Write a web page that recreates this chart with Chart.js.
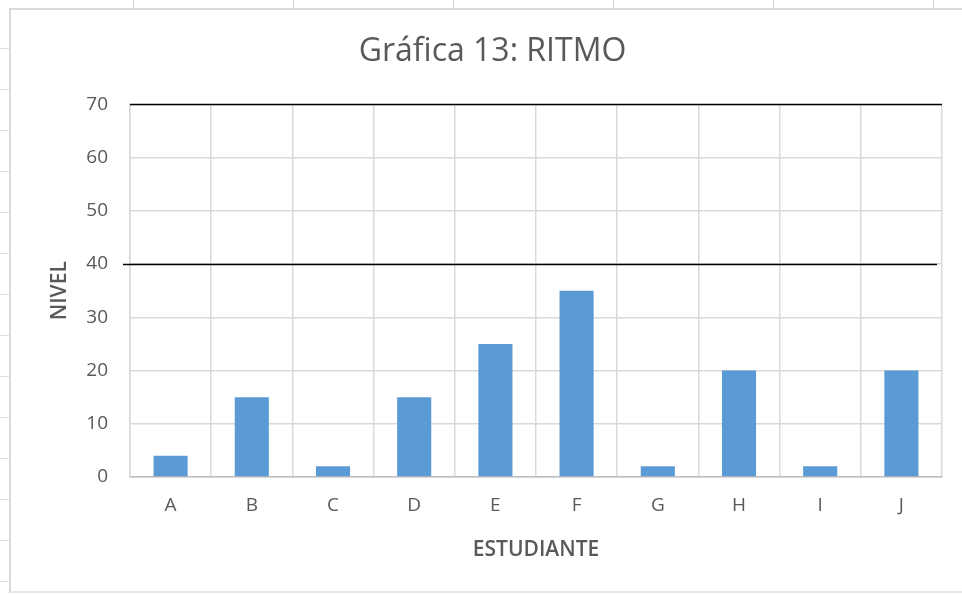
<!DOCTYPE html>
<html>
<head>
<meta charset="utf-8">
<script src="https://cdn.jsdelivr.net/npm/chart.js@4"></script>
<style>
  html, body { margin: 0; padding: 0; background: #fff; }
  #wrap { position: relative; width: 962px; height: 595px; overflow: hidden; }
  /* celdas de la hoja alrededor del gráfico */
  #topcells { position: absolute; left: 0; top: 0; width: 962px; height: 8px;
    background: repeating-linear-gradient(90deg, transparent 0 132px, #d4d4d4 132px 133px, transparent 133px 160px);
    background-position: 1px 0; }
  #leftcells { position: absolute; left: 0; top: 8px; width: 9px; height: 587px;
    background: repeating-linear-gradient(180deg, transparent 0 40px, #e0e0e0 40px 41px); }
  #box { position: absolute; left: 9px; top: 8px; width: 953px; height: 585px;
    border-left: 2px solid #d9d9d9; border-top: 2px solid #d9d9d9; border-bottom: 2px solid #e6e6e6;
    box-sizing: border-box; background: #fff; }
  canvas { position: absolute; left: 0; top: 0; }
</style>
</head>
<body>
<div id="wrap">
  <div id="topcells"></div>
  <div id="leftcells"></div>
  <div id="box"></div>
  <canvas id="chart" width="962" height="595"></canvas>
</div>
<script>
const students = ['A', 'B', 'C', 'D', 'E', 'F', 'G', 'H', 'I', 'J'];
const nivel = [4, 15, 2, 15, 25, 35, 2, 20, 2, 20];
const limits = [70, 40];   // líneas negras

const FONT = "'Open Sans', 'Noto Sans', sans-serif";

// dibuja las líneas horizontales de límite sobre la escala y
const limitLines = {
  id: 'limitLines',
  afterDatasetsDraw(chart) {
    const { ctx, chartArea, scales } = chart;
    ctx.save();
    ctx.strokeStyle = '#000';
    ctx.lineWidth = 1.5;
    limits.forEach((v, i) => {
      const y = Math.round(scales.y.getPixelForValue(v)) + 0.5;
      const x0 = i === 0 ? chartArea.left : chartArea.left - 7;
      const x1 = i === 0 ? chartArea.right : chartArea.right - 5;
      ctx.beginPath();
      ctx.moveTo(x0, y);
      ctx.lineTo(x1, y);
      ctx.stroke();
    });
    ctx.restore();
  }
};

const ctx = document.getElementById('chart').getContext('2d');

new Chart(ctx, {
  type: 'bar',
  data: {
    labels: students,
    datasets: [{
      label: 'NIVEL',
      data: nivel,
      backgroundColor: '#5b9bd5',
      borderWidth: 0,
      barPercentage: 0.42,
      categoryPercentage: 1
    }]
  },
  options: {
    responsive: false,
    animation: false,
    layout: { padding: { left: 43, right: 20, top: 20, bottom: 0 } },
    scales: {
      x: {
        offset: true,
        grid: { color: '#d9d9d9', lineWidth: 1.5, offset: true, drawTicks: false },
        border: { color: '#bfbfbf', width: 1.5 },
        ticks: { color: '#595959', font: { family: FONT, size: 19 }, padding: 17 },
        title: { display: true, text: 'ESTUDIANTE', color: '#595959',
          font: { family: FONT, size: 21, weight: '600' }, padding: { top: 4, bottom: 32 } },
        afterFit(s) { s.height = 118; }
      },
      y: {
        min: 0,
        max: 70,
        ticks: { stepSize: 10, color: '#595959', font: { family: FONT, size: 19 }, padding: 22 },
        grid: { color: '#d9d9d9', lineWidth: 1.5, drawTicks: false },
        border: { color: '#d9d9d9', width: 1.5 },
        title: { display: true, text: 'NIVEL', color: '#595959',
          font: { family: FONT, size: 21, weight: '600' }, padding: { top: 4, bottom: 4 } },
        afterFit(s) { s.width = 87; }
      }
    },
    plugins: {
      legend: { display: false },
      tooltip: { enabled: false },
      title: {
        display: true,
        text: 'Gráfica 13: RITMO',
        color: '#595959',
        font: { family: FONT, size: 32, weight: 'normal' },
        padding: { top: 13, bottom: 33 }
      }
    }
  },
  plugins: [limitLines]
});
</script>
</body>
</html>
